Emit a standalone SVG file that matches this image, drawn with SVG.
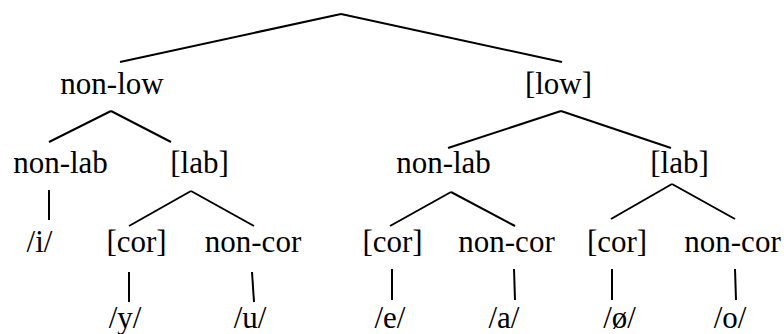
<svg xmlns="http://www.w3.org/2000/svg" width="784" height="334" viewBox="0 0 784 334">
<style>
.e line{stroke:#000;stroke-width:2;stroke-linecap:butt}
</style>
<rect width="784" height="334" fill="#fff"/>
<g class="e" id="connectors">
<line x1="341" y1="14" x2="120" y2="62"/>
<line x1="341" y1="14" x2="562" y2="62"/>
<line x1="111" y1="111" x2="49" y2="142"/>
<line x1="111" y1="111" x2="171" y2="142"/>
<line x1="561" y1="111" x2="448" y2="148"/>
<line x1="561" y1="111" x2="671" y2="148"/>
<line x1="49" y1="190" x2="49" y2="220"/>
<line x1="191" y1="191" x2="129" y2="226"/>
<line x1="191" y1="191" x2="254" y2="226"/>
<line x1="451" y1="192" x2="390" y2="226"/>
<line x1="451" y1="192" x2="515" y2="226"/>
<line x1="672" y1="184" x2="611" y2="219"/>
<line x1="672" y1="184" x2="735" y2="219"/>
<line x1="129" y1="272" x2="129" y2="302"/>
<line x1="252" y1="272" x2="254" y2="302"/>
<line x1="392" y1="269" x2="392" y2="300"/>
<line x1="514" y1="269" x2="515" y2="300"/>
<line x1="612" y1="269" x2="612" y2="300"/>
<line x1="735" y1="269" x2="736" y2="300"/>
</g>
<g font-family="Liberation Serif, serif" font-size="31" fill="#000" text-anchor="middle">
<g id="n-nonlow"><text x="112" y="94">non-low</text></g>
<g id="n-low"><text x="558.5" y="94">[low]</text></g>
<g id="n-nonlab1"><text x="60.5" y="173">non-lab</text></g>
<g id="n-lab1"><text x="199.5" y="173">[lab]</text></g>
<g id="n-nonlab2"><text x="443.5" y="173">non-lab</text></g>
<g id="n-lab2"><text x="679.5" y="173">[lab]</text></g>
<g id="n-i"><text x="39.5" y="252">/i/</text></g>
<g id="n-cor1"><text x="136.5" y="252">[cor]</text></g>
<g id="n-noncor1"><text x="253" y="252">non-cor</text></g>
<g id="n-cor2"><text x="392.5" y="252">[cor]</text></g>
<g id="n-noncor2"><text x="506.5" y="252">non-cor</text></g>
<g id="n-cor3"><text x="617" y="252">[cor]</text></g>
<g id="n-noncor3"><text x="732.5" y="252">non-cor</text></g>
<g id="n-y"><text x="125" y="328">/y/</text></g>
<g id="n-u"><text x="250" y="328">/u/</text></g>
<g id="n-e"><text x="390" y="328">/e/</text></g>
<g id="n-a"><text x="504" y="328">/a/</text></g>
<g id="n-oe"><text x="619.5" y="328">/ø/</text></g>
<g id="n-o"><text x="730" y="328">/o/</text></g>
</g>
</svg>
